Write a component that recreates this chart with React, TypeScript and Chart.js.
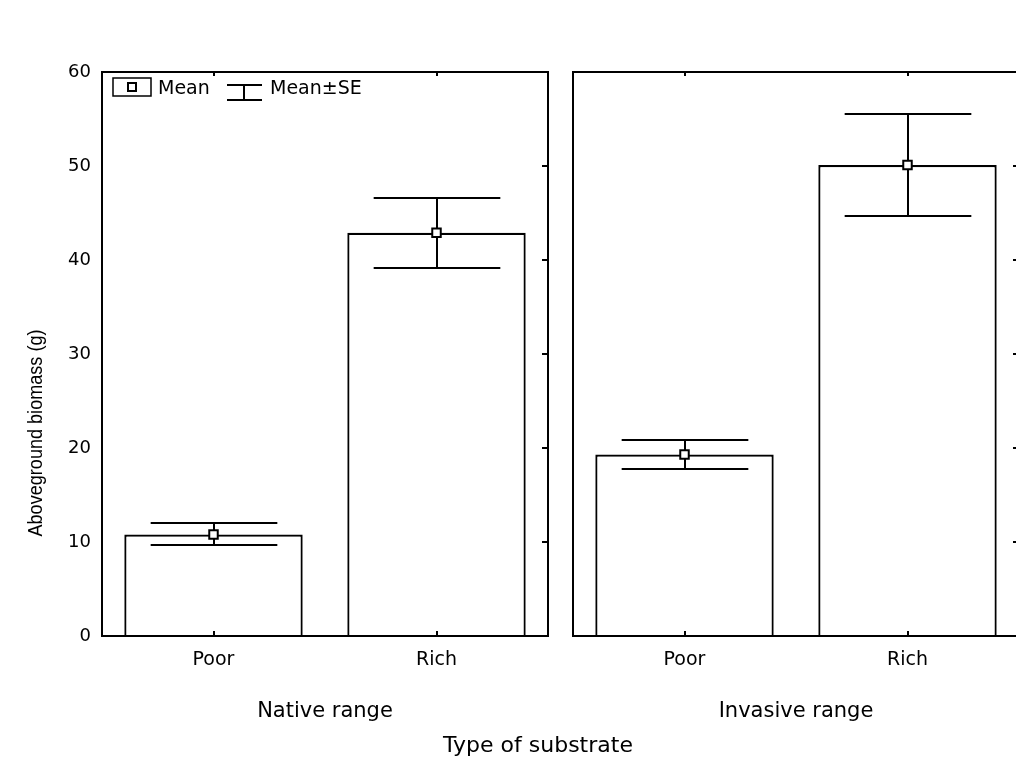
import React, { useEffect, useRef } from 'react';
import { Chart, registerables } from 'chart.js';

Chart.register(...registerables);

// ---- data ----
const categories = ['Poor', 'Rich'];
const nativeMeans = [10.8, 42.9];
const nativeSE = [1.17, 3.72];
const invasiveMeans = [19.3, 50.1];
const invasiveSE = [1.51, 5.45];
const yTicks = [0, 10, 20, 30, 40, 50, 60];
const panelTitles = ['Native range', 'Invasive range'];
const yAxisTitle = 'Aboveground biomass (g)';
const xAxisTitle = 'Type of substrate';
const legendLabels = ['Mean', 'Mean±SE'];

const FONT = "'DejaVu Sans', sans-serif";
const BLACK = '#000';

function makeDecor(se: number[], withExtras: boolean) {
  return {
    id: 'decor',
    afterDatasetDraw(chart: any, args: any) {
      if (args.meta.type !== 'bar') return;
      const ctx = chart.ctx;
      const y = chart.scales.y;
      const vals = chart.data.datasets[args.index].data as number[];
      ctx.save();
      ctx.strokeStyle = BLACK;
      ctx.lineWidth = 2;
      args.meta.data.forEach((bar: any, i: number) => {
        const v = vals[i];
        const cx = Math.round(bar.x);
        const hw = bar.width * 0.355;
        const yHi = Math.round(y.getPixelForValue(v + se[i]));
        const yLo = Math.round(y.getPixelForValue(v - se[i]));
        ctx.beginPath();
        ctx.moveTo(cx, yHi);
        ctx.lineTo(cx, yLo);
        ctx.moveTo(cx - hw, yHi);
        ctx.lineTo(cx + hw, yHi);
        ctx.moveTo(cx - hw, yLo);
        ctx.lineTo(cx + hw, yLo);
        ctx.stroke();
      });
      ctx.restore();
    },
    afterDraw(chart: any) {
      const ctx = chart.ctx;
      const { left, right, top, bottom } = chart.chartArea;
      const xs = chart.scales.x;
      const ys = chart.scales.y;
      ctx.save();
      ctx.strokeStyle = BLACK;
      ctx.lineWidth = 2;
      ctx.strokeRect(left, top, right - left, bottom - top);
      // inner ticks
      ctx.beginPath();
      categories.forEach((_, i) => {
        const px = Math.round(xs.getPixelForValue(i));
        ctx.moveTo(px, bottom);
        ctx.lineTo(px, bottom - 5);
        ctx.moveTo(px, top);
        ctx.lineTo(px, top + 4);
      });
      yTicks.forEach((v) => {
        if (v === yTicks[0] || v === yTicks[yTicks.length - 1]) return;
        const py = Math.round(ys.getPixelForValue(v));
        ctx.moveTo(right, py);
        ctx.lineTo(right - 6, py);
      });
      ctx.stroke();

      if (withExtras) {
        // legend
        ctx.lineWidth = 1.5;
        ctx.strokeRect(left + 11, top + 6, 38, 18);
        ctx.fillStyle = '#fff';
        ctx.lineWidth = 2;
        ctx.fillRect(left + 26, top + 11, 8, 8);
        ctx.strokeRect(left + 26, top + 11, 8, 8);
        ctx.fillStyle = BLACK;
        ctx.font = `19px ${FONT}`;
        ctx.textBaseline = 'middle';
        ctx.textAlign = 'left';
        ctx.fillText(legendLabels[0], left + 56, top + 17);
        ctx.lineWidth = 2;
        ctx.beginPath();
        ctx.moveTo(left + 125, top + 13);
        ctx.lineTo(left + 160, top + 13);
        ctx.moveTo(left + 142, top + 13);
        ctx.lineTo(left + 142, top + 28);
        ctx.moveTo(left + 125, top + 28);
        ctx.lineTo(left + 160, top + 28);
        ctx.stroke();
        ctx.fillText(legendLabels[1], left + 168, top + 17);

        // y axis title (condensed face, length matched to the reference)
        ctx.save();
        ctx.font = `21px 'Liberation Sans Narrow', 'Liberation Sans', Arial, sans-serif`;
        const w = ctx.measureText(yAxisTitle).width;
        const target = 207;
        ctx.translate(36, 433);
        ctx.rotate(-Math.PI / 2);
        if (w > target + 3) ctx.scale(target / w, 1);
        ctx.textAlign = 'center';
        ctx.textBaseline = 'middle';
        ctx.fillText(yAxisTitle, 0, 0);
        ctx.restore();

        // common x title
        ctx.font = `22px ${FONT}`;
        ctx.textAlign = 'center';
        ctx.textBaseline = 'middle';
        ctx.fillText(xAxisTitle, 538, 746);
      }
      ctx.restore();
    },
  };
}

function makeConfig(
  means: number[],
  se: number[],
  title: string,
  showY: boolean,
  padding: { left: number; right: number },
  withExtras: boolean
): any {
  return {
    type: 'bar',
    data: {
      labels: categories,
      datasets: [
        {
          type: 'bar',
          data: means,
          backgroundColor: '#fff',
          borderColor: BLACK,
          borderWidth: 2.2,
          barPercentage: 0.8,
          categoryPercentage: 1,
          order: 2,
        },
        {
          type: 'line',
          data: means,
          showLine: false,
          pointStyle: 'rect',
          pointRadius: 6,
          pointBackgroundColor: '#fff',
          pointBorderColor: BLACK,
          pointBorderWidth: 2,
          order: 1,
        },
      ],
    },
    options: {
      responsive: false,
      animation: false,
      devicePixelRatio: 1,
      layout: {
        autoPadding: false,
        padding: { left: padding.left, right: padding.right, top: 72, bottom: 0 },
      },
      plugins: {
        legend: { display: false },
        tooltip: { enabled: false },
        title: { display: false },
      },
      scales: {
        x: {
          grid: { display: false, drawTicks: false },
          border: { display: false },
          ticks: { font: { family: FONT, size: 19 }, color: BLACK, padding: 13 },
          title: {
            display: true,
            text: title,
            font: { family: FONT, size: 21 },
            color: BLACK,
            padding: { top: 0, bottom: 48 },
          },
          afterFit: (s: any) => {
            s.height = 136;
            s.paddingLeft = 0;
            s.paddingRight = 0;
          },
        },
        y: {
          display: showY,
          min: yTicks[0],
          max: yTicks[yTicks.length - 1],
          grid: { display: false, drawTicks: false },
          border: { display: false },
          ticks: { font: { family: FONT, size: 18 }, color: BLACK, padding: 11 },
          afterBuildTicks: (s: any) => {
            s.ticks = yTicks.map((v) => ({ value: v }));
          },
          afterFit: (s: any) => {
            s.width = showY ? 102 : 0;
            s.paddingTop = 0;
            s.paddingBottom = 0;
          },
        },
      },
    },
    plugins: [makeDecor(se, withExtras)],
  };
}

export default function App() {
  const leftRef = useRef<HTMLCanvasElement | null>(null);
  const rightRef = useRef<HTMLCanvasElement | null>(null);

  useEffect(() => {
    const c1 = new Chart(
      leftRef.current as HTMLCanvasElement,
      makeConfig(nativeMeans, nativeSE, panelTitles[0], true, { left: 0, right: 1016 - 548 }, true)
    );
    const c2 = new Chart(
      rightRef.current as HTMLCanvasElement,
      makeConfig(invasiveMeans, invasiveSE, panelTitles[1], false, { left: 13, right: 1 }, false)
    );
    return () => {
      c1.destroy();
      c2.destroy();
    };
  }, []);

  return (
    <div
      style={{
        position: 'fixed',
        left: 0,
        top: 0,
        width: 1016,
        height: 772,
        overflow: 'hidden',
        background: '#fff',
      }}
    >
      <canvas
        ref={leftRef}
        width={1016}
        height={772}
        style={{ position: 'absolute', left: 0, top: 0, width: 1016, height: 772 }}
      />
      <canvas
        ref={rightRef}
        width={460}
        height={772}
        style={{ position: 'absolute', left: 560, top: 0, width: 460, height: 772 }}
      />
    </div>
  );
}
